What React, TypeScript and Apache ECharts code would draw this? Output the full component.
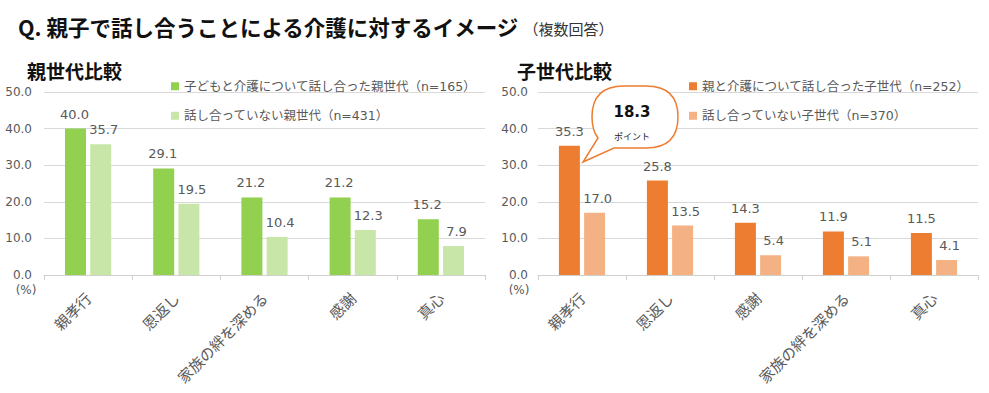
import React, { useEffect, useRef } from "react";
import * as echarts from "echarts";

const parentCategories = ["親孝行", "恩返し", "家族の絆を深める", "感謝", "真心"];
const childCategories = ["親孝行", "恩返し", "感謝", "家族の絆を深める", "真心"];
const parentTalked = [40.0, 29.1, 21.2, 21.2, 15.2];
const parentNotTalked = [35.7, 19.5, 10.4, 12.3, 7.9];
const childTalked = [35.3, 25.8, 14.3, 11.9, 11.5];
const childNotTalked = [17.0, 13.5, 5.4, 5.1, 4.1];
const seriesNames = [
  "子どもと介護について話し合った親世代（n=165）",
  "話し合っていない親世代（n=431）",
  "親と介護について話し合った子世代（n=252）",
  "話し合っていない子世代（n=370）",
];
const mainTitle = "Q. 親子で話し合うことによる介護に対するイメージ";
const subTitle = "（複数回答）";
const panelTitles = ["親世代比較", "子世代比較"];
const calloutValue = "18.3";
const calloutUnit = "ポイント";

const FONT = "'DejaVu Sans', 'Noto Sans CJK JP', sans-serif";
const JP = "'Noto Sans CJK JP', sans-serif";
const GRAY = "#595959";

echarts.graphic.registerShape(
  "bubble",
  echarts.graphic.extendPath(
    "M 32 0 L 54 0 Q 86 0 86 31 Q 86 62 54 62 L 22 62 L -9 76 L 6 52 Q 0 44 0 31 Q 0 0 32 0 Z",
    {}
  )
);

export default function App() {
  const ref = useRef<HTMLDivElement>(null);
  useEffect(() => {
    if (!ref.current) return;
    const chart = echarts.init(ref.current, null, { renderer: "svg" });
    const fmt = (v: number) => v.toFixed(1);
    const xAxisBase = (gridIndex: number, data: string[]) => ({
      type: "category",
      gridIndex,
      data,
      axisLine: { lineStyle: { color: "#d0d0d0" } },
      axisTick: { show: true, length: 5, lineStyle: { color: "#d0d0d0" } },
      axisLabel: {
        rotate: 45,
        interval: 0,
        margin: 20,
        fontSize: 15,
        color: GRAY,
        fontFamily: JP,
      },
    });
    const yAxisBase = (gridIndex: number, margin: number) => ({
      type: "value",
      gridIndex,
      min: 0,
      max: 50,
      interval: 10,
      axisLine: { show: false },
      axisTick: { show: false },
      axisLabel: {
        formatter: (v: number) => v.toFixed(1),
        color: GRAY,
        fontSize: 12,
        margin,
        fontFamily: FONT,
      },
      splitLine: { lineStyle: { color: "#d9d9d9" } },
    });
    const barSeries = (
      name: string,
      data: number[],
      idx: number,
      color: string,
      offset: number
    ) => ({
      type: "bar",
      name,
      data,
      xAxisIndex: idx,
      yAxisIndex: idx,
      barWidth: 21,
      barGap: "20%",
      itemStyle: { color },
      label: {
        show: true,
        position: "top",
        distance: 8,
        offset: [offset, 0],
        formatter: (p: any) => fmt(p.value),
        color: GRAY,
        fontSize: 13,
        fontFamily: FONT,
      },
    });
    const legendBase = (data: string[], left: number) => ({
      data,
      orient: "vertical",
      left,
      top: 80,
      padding: 0,
      itemWidth: 8,
      itemHeight: 8,
      itemGap: 17,
      icon: "rect",
      textStyle: { color: GRAY, fontSize: 12.5, fontFamily: FONT },
    });
    chart.setOption({
      animation: false,
      grid: [
        { left: 44, top: 92, width: 441, height: 183 },
        { left: 538, top: 92, width: 440, height: 183 },
      ],
      xAxis: [xAxisBase(0, parentCategories), xAxisBase(1, childCategories)],
      yAxis: [yAxisBase(0, 12), yAxisBase(1, 10)],
      legend: [
        legendBase([seriesNames[0], seriesNames[1]], 171),
        legendBase([seriesNames[2], seriesNames[3]], 689),
      ],
      series: [
        barSeries(seriesNames[0], parentTalked, 0, "#92D050", -1),
        barSeries(seriesNames[1], parentNotTalked, 0, "#C8E6A8", 3),
        barSeries(seriesNames[2], childTalked, 1, "#ED7D31", 0),
        barSeries(seriesNames[3], childNotTalked, 1, "#F4B183", 3),
      ],
      graphic: [
        {
          type: "text",
          left: 18,
          top: 16,
          z: 100,
          style: {
            text: `{a|${mainTitle}}{b|${subTitle}}`,
            rich: {
              a: { fontSize: 21.5, fontWeight: "bold", fontFamily: JP, fill: "#111" },
              b: { fontSize: 15, fontFamily: JP, fill: "#333", padding: [4, 0, 0, 4] },
            },
          },
        },
        {
          type: "text",
          x: 27,
          y: 70,
          style: {
            text: panelTitles[0],
            fontSize: 19,
            fontWeight: "bold",
            fontFamily: JP,
            fill: "#111",
            textVerticalAlign: "middle",
          },
        },
        {
          type: "text",
          x: 517,
          y: 70,
          style: {
            text: panelTitles[1],
            fontSize: 19,
            fontWeight: "bold",
            fontFamily: JP,
            fill: "#111",
            textVerticalAlign: "middle",
          },
        },
        {
          type: "text",
          x: 26,
          y: 290,
          style: {
            text: "(%)",
            fontSize: 12,
            fontFamily: FONT,
            fill: GRAY,
            textAlign: "center",
            textVerticalAlign: "middle",
          },
        },
        {
          type: "text",
          x: 519,
          y: 290,
          style: {
            text: "(%)",
            fontSize: 12,
            fontFamily: FONT,
            fill: GRAY,
            textAlign: "center",
            textVerticalAlign: "middle",
          },
        },
        {
          type: "bubble",
          x: 592,
          y: 86,
          z: 100,
          style: { fill: "#fff", stroke: "#ED7D31", lineWidth: 1.5 },
        },
        {
          type: "text",
          x: 632,
          y: 112,
          z: 101,
          style: {
            text: calloutValue,
            fontSize: 15,
            fontWeight: "bold",
            fontFamily: FONT,
            fill: "#111",
            textAlign: "center",
            textVerticalAlign: "middle",
          },
        },
        {
          type: "text",
          x: 632,
          y: 136,
          z: 101,
          style: {
            text: calloutUnit,
            fontSize: 9,
            fontFamily: JP,
            fill: "#222",
            textAlign: "center",
            textVerticalAlign: "middle",
          },
        },
      ],
    });
    return () => chart.dispose();
  }, []);
  return (
    <div
      ref={ref}
      style={{ position: "absolute", left: 0, top: 0, width: 989, height: 393, background: "#fff" }}
    />
  );
}
